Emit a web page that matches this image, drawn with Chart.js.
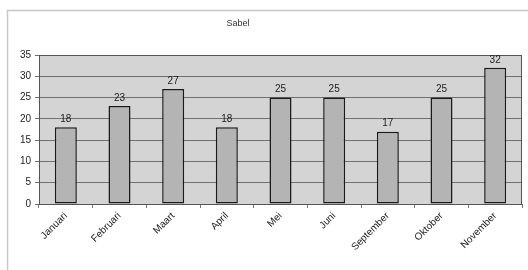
<!DOCTYPE html>
<html><head><meta charset="utf-8">
<script src="https://cdn.jsdelivr.net/npm/chart.js@4"></script>
<style>html,body{margin:0;padding:0;background:#fff}#c{display:block}</style>
</head><body>
<canvas id="c" width="528" height="270"></canvas>
<script>
const title = "Sabel";
const categories = ["Januari","Februari","Maart","April","Mei","Juni","September","Oktober","November"];
const values = [18,23,27,18,25,25,17,25,32];
const yTicks = [0,5,10,15,20,25,30,35];

const FONT = "'Liberation Sans', Arial, sans-serif";

const decor = {
  id: 'decor',
  beforeDraw(chart) {
    const {ctx, chartArea: a} = chart;
    ctx.save();
    ctx.fillStyle = '#fff';
    ctx.fillRect(0,0,chart.width,chart.height);
    ctx.strokeStyle = '#c8c8c8';
    ctx.lineWidth = 1.5;
    ctx.strokeRect(7.5, 10.5, 540, 300);
    ctx.fillStyle = '#d4d4d4';
    ctx.fillRect(a.left, a.top, a.right - a.left, a.bottom - a.top);
    ctx.fillStyle = '#333';
    ctx.font = "9px " + FONT;
    ctx.textAlign = 'center';
    ctx.textBaseline = 'middle';
    ctx.fillText(title, 238, 24);
    ctx.restore();
  },
  afterDatasetsDraw(chart) {
    const {ctx, chartArea: a} = chart;
    ctx.save();
    ctx.strokeStyle = '#555';
    ctx.lineWidth = 1;
    ctx.strokeRect(a.left + 0.5, a.top + 0.5, a.right - a.left - 1, a.bottom - a.top);
    const meta = chart.getDatasetMeta(0);
    ctx.fillStyle = '#222';
    ctx.font = "10px " + FONT;
    ctx.textAlign = 'center';
    ctx.textBaseline = 'bottom';
    meta.data.forEach((el, i) => {
      ctx.fillText(String(chart.data.datasets[0].data[i]), el.x, el.y - 3);
    });
    ctx.restore();
  }
};

new Chart(document.getElementById('c'), {
  type: 'bar',
  data: {
    labels: categories,
    datasets: [{
      data: values,
      backgroundColor: '#b4b4b4',
      borderColor: '#1a1a1a',
      borderWidth: 1.5,
      borderSkipped: false,
      barPercentage: 0.82,
      categoryPercentage: 0.5
    }]
  },
  options: {
    responsive: false,
    animation: false,
    devicePixelRatio: 1,
    layout: { padding: { left: 0, right: 6, top: 55, bottom: 0 } },
    plugins: { legend: { display: false }, title: { display: false }, tooltip: { enabled: false } },
    scales: {
      x: {
        offset: true,
        grid: { display: true, drawOnChartArea: false, drawTicks: true, tickLength: 4, offset: true, color: '#777' },
        border: { color: '#666' },
        ticks: { maxRotation: 45, minRotation: 45, autoSkip: false, color: '#222', font: { size: 10, family: FONT }, padding: 2 },
        afterFit(s) { s.height = 66; }
      },
      y: {
        min: 0, max: 35,
        afterBuildTicks(s) { s.ticks = yTicks.map(v => ({ value: v })); },
        grid: { color: '#707070', lineWidth: 1, drawTicks: true, tickLength: 4 },
        border: { color: '#555' },
        ticks: { color: '#222', font: { size: 10, family: FONT }, padding: 4 },
        afterFit(s) { s.width = 39; }
      }
    }
  },
  plugins: [decor]
});
</script>
</body></html>
